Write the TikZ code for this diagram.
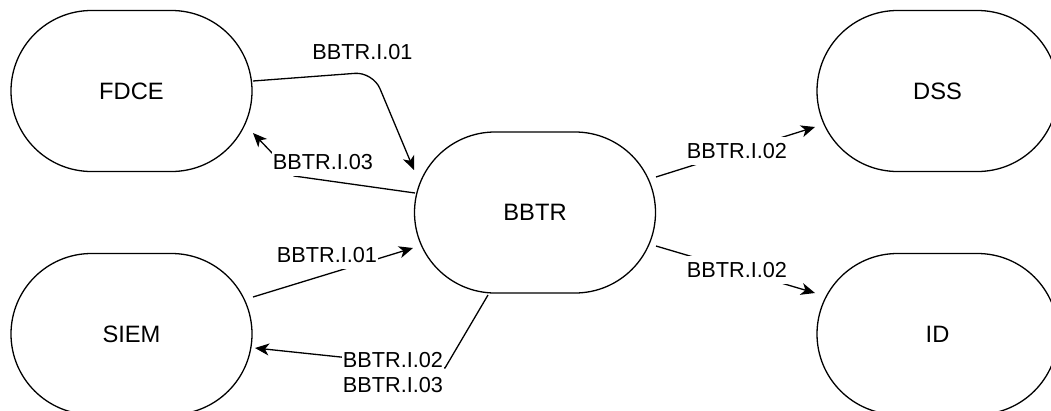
\documentclass[tikz,border=0pt]{standalone}
\usepackage{fontspec}
\setmainfont{Liberation Sans}
\usetikzlibrary{shapes.misc,arrows.meta,calc}
\begin{document}
\begin{tikzpicture}[x=1pt,y=-1pt,
  proc/.style={draw, line width=1.3pt, rounded rectangle, minimum width=241pt, minimum height=161pt, inner sep=0pt, font=\fontsize{23.7}{28}\selectfont},
  lbl/.style={font=\fontsize{21.7}{25}\selectfont, inner xsep=1pt, inner ysep=6pt, align=center, fill=white},
  conn/.style={line width=1.3pt, -{Stealth[length=14pt,width=12pt,inset=4pt]}}]
\useasboundingbox (0,0) rectangle (1051,410);
\node[proc] (FDCE) at (131.5,91) {FDCE};
\node[proc] (SIEM) at (131.5,334) {SIEM};
\node[proc] (BBTR) at (535,212.5) {BBTR};
\node[proc] (DSS) at (937.5,91) {DSS};
\node[proc] (ID) at (937.5,334) {ID};
\coordinate (c1) at (373,72);
\coordinate (c2) at (294,176);
\coordinate (c4) at (445,368);
% edges
\draw[conn, rounded corners=18pt] ($(FDCE.center)+(121.5,-10)$) -- (c1) -- ($(BBTR.center)+(-121,-42.5)$);
\draw[conn] ($(BBTR.center)+(-120,-19.5)$) -- (c2) -- ($(FDCE.center)+(121.5,42)$);
\draw[conn] ($(SIEM.center)+(121.5,-37)$) -- ($(BBTR.center)+(-122,35.5)$);
\draw[conn] ($(BBTR.center)+(-47,82.5)$) -- (c4) -- ($(SIEM.center)+(123.5,14)$);
\draw[conn] ($(BBTR.center)+(121,-35.5)$) -- ($(DSS.center)+(-122.5,36)$);
\draw[conn] ($(BBTR.center)+(121,33.5)$) -- ($(ID.center)+(-122.5,-41)$);
% labels
\node[lbl] (L1) at (362.5,52.5) {BBTR.I.01};
\node[lbl] (L2) at (323,162.5) {BBTR.I.03};
\node[lbl] (L3) at (327,255) {BBTR.I.01};
\node[lbl] (L4) at (393,373) {BBTR.I.02\\BBTR.I.03};
\node[lbl] (L5) at (737,151) {BBTR.I.02};
\node[lbl] (L6) at (737,270) {BBTR.I.02};
\end{tikzpicture}
\end{document}
